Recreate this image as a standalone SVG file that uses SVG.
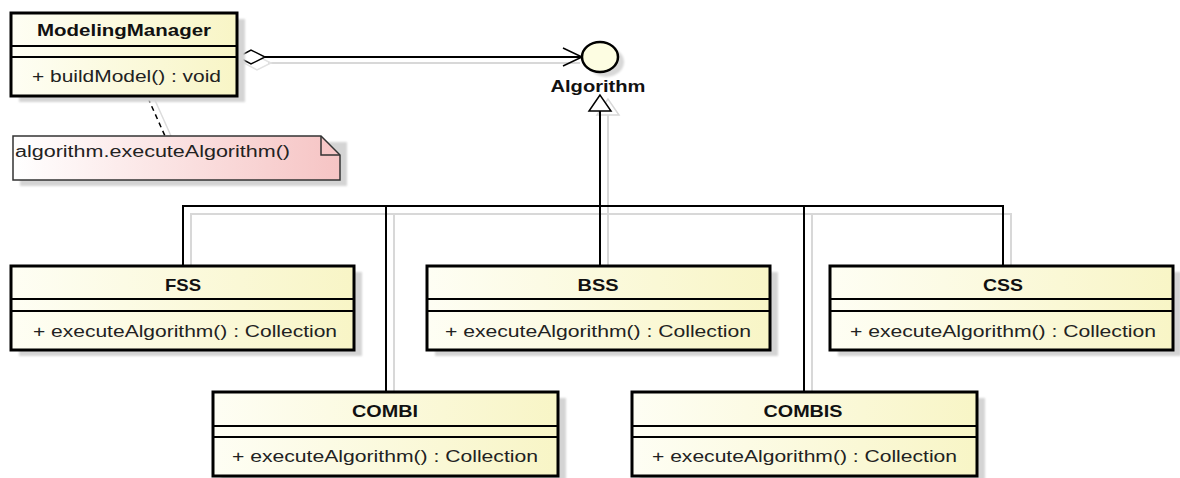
<svg xmlns="http://www.w3.org/2000/svg" width="1180" height="478" viewBox="0 0 1180 478">
<defs>
  <linearGradient id="cls" x1="0" y1="0" x2="1" y2="0">
    <stop offset="0" stop-color="#fefef4"/>
    <stop offset="1" stop-color="#f8f5c6"/>
  </linearGradient>
  <linearGradient id="notefill" x1="0" y1="0" x2="1" y2="0">
    <stop offset="0" stop-color="#ffffff"/>
    <stop offset="1" stop-color="#f6c4c4"/>
  </linearGradient>
  <filter id="blur" x="-10%" y="-10%" width="120%" height="120%"><feGaussianBlur stdDeviation="1.2"/></filter>
</defs>
<style>
  .sh{fill:#d4d4d4;filter:url(#blur)}
  .box{fill:url(#cls);stroke:#000;stroke-width:3}
  .sep{stroke:#000;stroke-width:2}
  .hd{font-family:"Liberation Sans",Arial,sans-serif;font-weight:bold;font-size:17px;text-anchor:middle;fill:#111}
  .mt{font-family:"Liberation Sans",Arial,sans-serif;font-size:16px;fill:#222}
  .ln{stroke:#000;stroke-width:2;fill:none}
  .gl{stroke:#d8d8d8;stroke-width:2;fill:none}
</style>
<rect width="1180" height="478" fill="#ffffff"/>

<g id="connectors">
  <line class="gl" x1="268" y1="63" x2="580" y2="63"/>
  <polygon points="244,63 257,56 271,63 257,70" fill="none" stroke="#e2e2e2" stroke-width="1.5"/>
  <line class="gl" x1="608" y1="115" x2="608" y2="266"/>
  <polygon points="608,99 597,115 619,115" fill="none" stroke="#d8d8d8" stroke-width="1.5"/>
  <polyline class="gl" points="191,266 191,214 1011,214 1011,266"/>
  <line class="gl" x1="394" y1="214" x2="394" y2="392"/>
  <line class="gl" x1="812" y1="214" x2="812" y2="392"/>
  <line x1="154" y1="98" x2="171" y2="136" stroke="#dcdcdc" stroke-width="1.5"/>
  <line class="ln" x1="265" y1="57" x2="581" y2="57"/>
  <polygon points="238,57 251,50 265,57 251,64" fill="#ffffff" stroke="#000" stroke-width="1.5"/>
  <polyline points="563,48 582,57 563,66" fill="none" stroke="#000" stroke-width="1.5"/>
  <line class="ln" x1="600" y1="111" x2="600" y2="266"/>
  <polyline class="ln" points="183,266 183,206 1003,206 1003,266"/>
  <line class="ln" x1="386" y1="206" x2="386" y2="392"/>
  <line class="ln" x1="804" y1="206" x2="804" y2="392"/>
  <polygon points="600,95 589,111 611,111" fill="#ffffff" stroke="#000" stroke-width="1.5"/>
  <line x1="148" y1="98" x2="165" y2="136" stroke="#000" stroke-width="1.5" stroke-dasharray="5,4"/>
</g>

<g id="ModelingManager">
  <rect class="sh" x="19" y="19" width="226" height="83"/>
  <rect class="box" x="11" y="13" width="226" height="83"/>
  <line class="sep" x1="11" y1="46" x2="237" y2="46"/>
  <line class="sep" x1="11" y1="57" x2="237" y2="57"/>
  <text class="hd" x="124" y="36" textLength="174" lengthAdjust="spacingAndGlyphs">ModelingManager</text>
  <text class="mt" x="32" y="82" textLength="189" lengthAdjust="spacingAndGlyphs">+ buildModel() : void</text>
</g>

<g id="note">
  <rect class="sh" x="20" y="142" width="327" height="44"/>
  <polygon points="13,136 321,136 340,155 340,180 13,180" fill="url(#notefill)" stroke="#333" stroke-width="1.5"/>
  <polyline points="321,136 321,155 340,155" fill="none" stroke="#333" stroke-width="1.5"/>
  <text class="mt" x="15" y="157" fill="#111" textLength="275" lengthAdjust="spacingAndGlyphs">algorithm.executeAlgorithm()</text>
</g>

<g id="Algorithm">
  <ellipse cx="606" cy="62" rx="18" ry="15" fill="#d8d8d8" filter="url(#blur)"/>
  <ellipse cx="600" cy="57" rx="18" ry="15" fill="#fdfde2" stroke="#000" stroke-width="2.5"/>
  <text class="hd" x="598" y="92" textLength="95" lengthAdjust="spacingAndGlyphs">Algorithm</text>
</g>

<g id="FSS">
  <rect class="sh" x="19" y="272" width="343" height="84"/>
  <rect class="box" x="11" y="266" width="343" height="84"/>
  <line class="sep" x1="11" y1="299" x2="354" y2="299"/>
  <line class="sep" x1="11" y1="311" x2="354" y2="311"/>
  <text class="hd" x="183" y="291" textLength="36" lengthAdjust="spacingAndGlyphs">FSS</text>
  <text class="mt" x="33" y="337" textLength="304" lengthAdjust="spacingAndGlyphs">+ executeAlgorithm() : Collection</text>
</g>

<g id="BSS">
  <rect class="sh" x="435" y="272" width="343" height="84"/>
  <rect class="box" x="427" y="266" width="343" height="84"/>
  <line class="sep" x1="427" y1="299" x2="770" y2="299"/>
  <line class="sep" x1="427" y1="311" x2="770" y2="311"/>
  <text class="hd" x="598" y="291" textLength="41" lengthAdjust="spacingAndGlyphs">BSS</text>
  <text class="mt" x="445" y="337" textLength="306" lengthAdjust="spacingAndGlyphs">+ executeAlgorithm() : Collection</text>
</g>

<g id="CSS">
  <rect class="sh" x="838" y="272" width="343" height="84"/>
  <rect class="box" x="830" y="266" width="343" height="84"/>
  <line class="sep" x1="830" y1="299" x2="1173" y2="299"/>
  <line class="sep" x1="830" y1="311" x2="1173" y2="311"/>
  <text class="hd" x="1003" y="291" textLength="40" lengthAdjust="spacingAndGlyphs">CSS</text>
  <text class="mt" x="850" y="337" textLength="306" lengthAdjust="spacingAndGlyphs">+ executeAlgorithm() : Collection</text>
</g>

<g id="COMBI">
  <rect class="sh" x="221" y="398" width="345" height="84"/>
  <rect class="box" x="213" y="392" width="345" height="84"/>
  <line class="sep" x1="213" y1="426" x2="558" y2="426"/>
  <line class="sep" x1="213" y1="437" x2="558" y2="437"/>
  <text class="hd" x="385" y="417" textLength="66" lengthAdjust="spacingAndGlyphs">COMBI</text>
  <text class="mt" x="232" y="462" textLength="306" lengthAdjust="spacingAndGlyphs">+ executeAlgorithm() : Collection</text>
</g>

<g id="COMBIS">
  <rect class="sh" x="640" y="398" width="345" height="84"/>
  <rect class="box" x="632" y="392" width="345" height="84"/>
  <line class="sep" x1="632" y1="426" x2="977" y2="426"/>
  <line class="sep" x1="632" y1="437" x2="977" y2="437"/>
  <text class="hd" x="803" y="417" textLength="79" lengthAdjust="spacingAndGlyphs">COMBIS</text>
  <text class="mt" x="652" y="462" textLength="305" lengthAdjust="spacingAndGlyphs">+ executeAlgorithm() : Collection</text>
</g>
</svg>
